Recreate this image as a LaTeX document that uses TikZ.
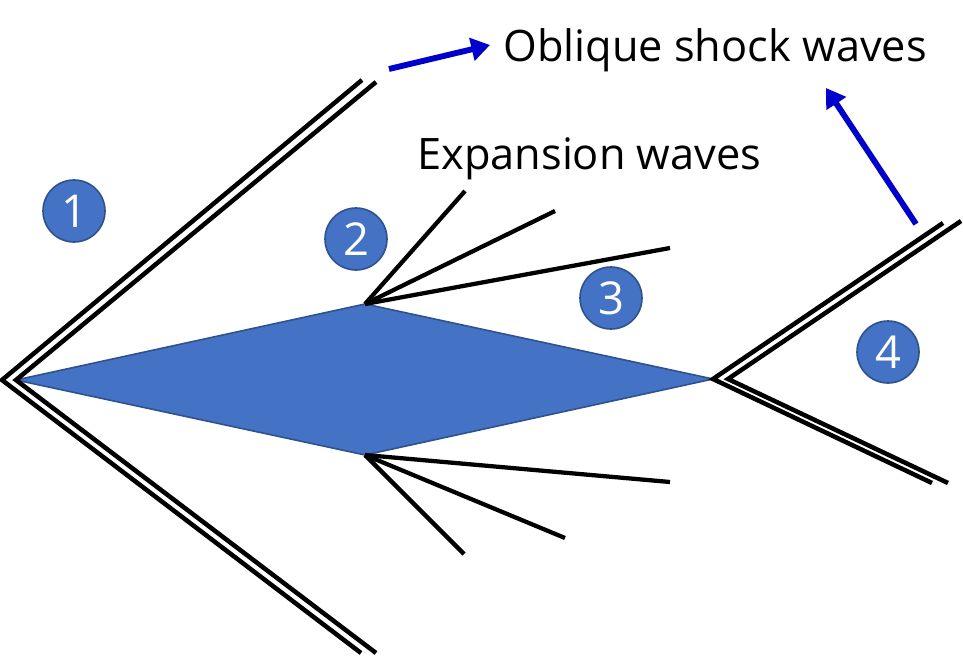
\documentclass[tikz,border=0pt]{standalone}
\usepackage{fontspec}
\setmainfont{Open Sans}
\usetikzlibrary{arrows.meta}
\definecolor{wedgeblue}{HTML}{4472C4}
\definecolor{wedgeedge}{HTML}{2F528F}
\definecolor{arrowblue}{HTML}{0000CC}
\tikzset{
	wave/.style={black, line width=3.2pt},
	shock/.style={black, line width=3.4pt},
	zone/.style={circle, fill=wedgeblue, draw=wedgeedge, line width=1.2pt, minimum size=46.5pt, inner sep=0pt, text=white, font=\fontsize{34}{34}\selectfont},
	pointer/.style={arrowblue, line width=4.4pt, -{Triangle[length=14pt, width=17pt]}},
	caption/.style={black, inner sep=0pt, font=\fontsize{32.5}{33}\selectfont}
}
\begin{document}
\begin{tikzpicture}[x=0.75pt, y=-0.75pt]
	\useasboundingbox (0,0) rectangle (963,656);
	
	% Wedge corners
	\coordinate (nose) at (16,380);
	\coordinate (crest) at (365,304);
	\coordinate (tail) at (713,379);
	\coordinate (keel) at (365,455);
	
	% Draw the wedge
	\draw[fill=wedgeblue, draw=wedgeedge, line width=1.2pt] (nose) -- (crest) -- (tail) -- (keel) -- cycle;
	
	% Shocks at the nose
	\coordinate (noseOut) at (2,380);
	\coordinate (upOutA) at (362,80);
	\coordinate (upInA) at (376,82);
	\coordinate (lowOutA) at (361,653);
	\coordinate (lowInA) at (376,653);
	\draw[shock] (upOutA) -- (noseOut) -- (lowOutA);
	\draw[shock] (upInA) -- (nose) -- (lowInA);
	
	% Shocks at the tail
	\coordinate (tailIn) at (728,379);
	\coordinate (upOutB) at (943,223);
	\coordinate (upInB) at (961,221);
	\coordinate (lowOutB) at (932,483);
	\coordinate (lowInB) at (948,483);
	\draw[shock] (upOutB) -- (tail) -- (lowOutB);
	\draw[shock] (upInB) -- (tailIn) -- (lowInB);
	
	% Expansion fans
	\coordinate (fanA) at (465,191);
	\coordinate (fanB) at (555,211);
	\coordinate (fanC) at (670,248);
	\coordinate (fanD) at (670,482);
	\coordinate (fanE) at (565,538);
	\coordinate (fanF) at (464,554);
	\draw[wave] (crest) -- (fanA);
	\draw[wave] (crest) -- (fanB);
	\draw[wave] (crest) -- (fanC);
	\draw[wave] (keel) -- (fanD);
	\draw[wave] (keel) -- (fanE);
	\draw[wave] (keel) -- (fanF);
	
	% Numbered zones
	\node[zone] (one) at (74,211) {1};
	\node[zone] (two) at (356,239) {2};
	\node[zone] (three) at (611,298) {3};
	\node[zone] (four) at (888,352) {4};
	
	% Labels
	\node[caption, anchor=base west] (oblique) at (503,62) {Oblique shock waves};
	\node[caption, anchor=base west] (expansion) at (417,170) {Expansion waves};
	
	% Pointers to the label
	\coordinate (leftFoot) at (389,69);
	\coordinate (leftHead) at (490,45);
	\coordinate (rightFoot) at (916,224);
	\coordinate (rightHead) at (826,88);
	\draw[pointer] (leftFoot) -- (leftHead);
	\draw[pointer] (rightFoot) -- (rightHead);
\end{tikzpicture}
\end{document}
